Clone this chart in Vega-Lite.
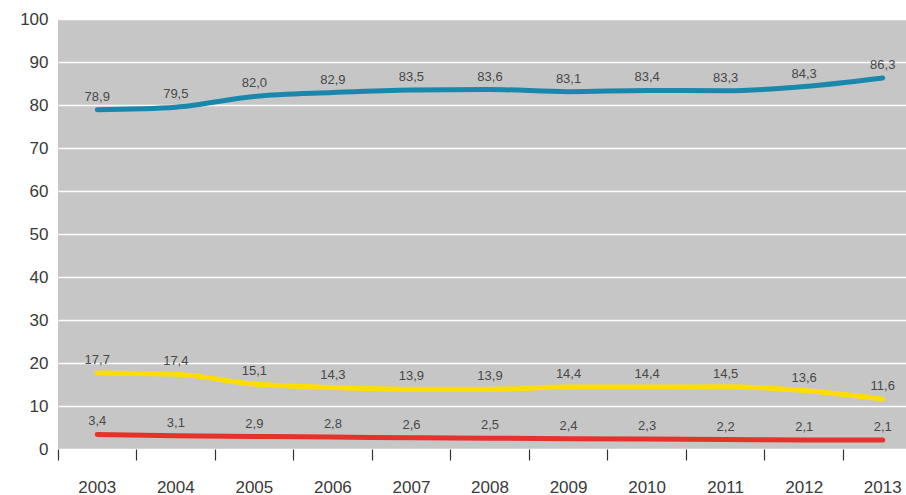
{
  "$schema": "https://vega.github.io/schema/vega-lite/v6.json",
  "autosize": "none",
  "width": 848,
  "height": 430,
  "padding": {"left": 58, "top": 19, "right": 0, "bottom": 46},
  "background": "white",
  "config": {
    "locale": {"number": {"decimal": ",", "thousands": ".", "grouping": [3], "currency": ["", " €"]}},
    "view": {"fill": "#c6c6c6", "stroke": null},
    "font": "Liberation Sans"
  },
  "data": {"values": [
    {"year": "2003", "series": "A", "value": 78.9}, {"year": "2004", "series": "A", "value": 79.5}, {"year": "2005", "series": "A", "value": 82.0}, {"year": "2006", "series": "A", "value": 82.9}, {"year": "2007", "series": "A", "value": 83.5}, {"year": "2008", "series": "A", "value": 83.6}, {"year": "2009", "series": "A", "value": 83.1}, {"year": "2010", "series": "A", "value": 83.4}, {"year": "2011", "series": "A", "value": 83.3}, {"year": "2012", "series": "A", "value": 84.3}, {"year": "2013", "series": "A", "value": 86.3},
    {"year": "2003", "series": "B", "value": 17.7}, {"year": "2004", "series": "B", "value": 17.4}, {"year": "2005", "series": "B", "value": 15.1}, {"year": "2006", "series": "B", "value": 14.3}, {"year": "2007", "series": "B", "value": 13.9}, {"year": "2008", "series": "B", "value": 13.9}, {"year": "2009", "series": "B", "value": 14.4}, {"year": "2010", "series": "B", "value": 14.4}, {"year": "2011", "series": "B", "value": 14.5}, {"year": "2012", "series": "B", "value": 13.6}, {"year": "2013", "series": "B", "value": 11.6},
    {"year": "2003", "series": "C", "value": 3.4}, {"year": "2004", "series": "C", "value": 3.1}, {"year": "2005", "series": "C", "value": 2.9}, {"year": "2006", "series": "C", "value": 2.8}, {"year": "2007", "series": "C", "value": 2.6}, {"year": "2008", "series": "C", "value": 2.5}, {"year": "2009", "series": "C", "value": 2.4}, {"year": "2010", "series": "C", "value": 2.3}, {"year": "2011", "series": "C", "value": 2.2}, {"year": "2012", "series": "C", "value": 2.1}, {"year": "2013", "series": "C", "value": 2.1}
  ]},
  "encoding": {
    "x": {"field": "year", "type": "ordinal", "scale": {"type": "band", "paddingInner": 0, "paddingOuter": 0, "range": [0, 864]},
      "axis": {"title": null, "labelAngle": 0, "domain": false, "grid": false, "ticks": true, "bandPosition": 0, "tickSize": 11, "tickColor": "#333", "tickWidth": 1.2, "labelPadding": 19, "labelFontSize": 17, "labelColor": "#3a3a3a", "labelFont": "Liberation Sans"}},
    "y": {"field": "value", "type": "quantitative", "scale": {"domain": [0, 100], "nice": false},
      "axis": {"title": null, "values": [0,10,20,30,40,50,60,70,80,90,100], "domain": false, "ticks": false, "grid": true, "gridColor": "white", "gridWidth": 1.5, "gridOpacity": 1, "labelPadding": 10, "labelFontSize": 17, "labelColor": "#3a3a3a", "labelFont": "Liberation Sans"}}
  },
  "layer": [
    {
      "mark": {"type": "line", "strokeWidth": 5, "strokeCap": "round", "strokeJoin": "round", "interpolate": "monotone"},
      "encoding": {
        "color": {"field": "series", "type": "nominal", "legend": null, "scale": {"domain": ["A", "B", "C"], "range": ["#1a87ad", "#ffdd00", "#e5322a"]}}
      }
    },
    {
      "mark": {"type": "text", "dy": -13, "fontSize": 13, "color": "#484848", "font": "Liberation Sans"},
      "encoding": {
        "text": {"field": "value", "type": "quantitative", "format": ".1f"}
      }
    }
  ]
}
